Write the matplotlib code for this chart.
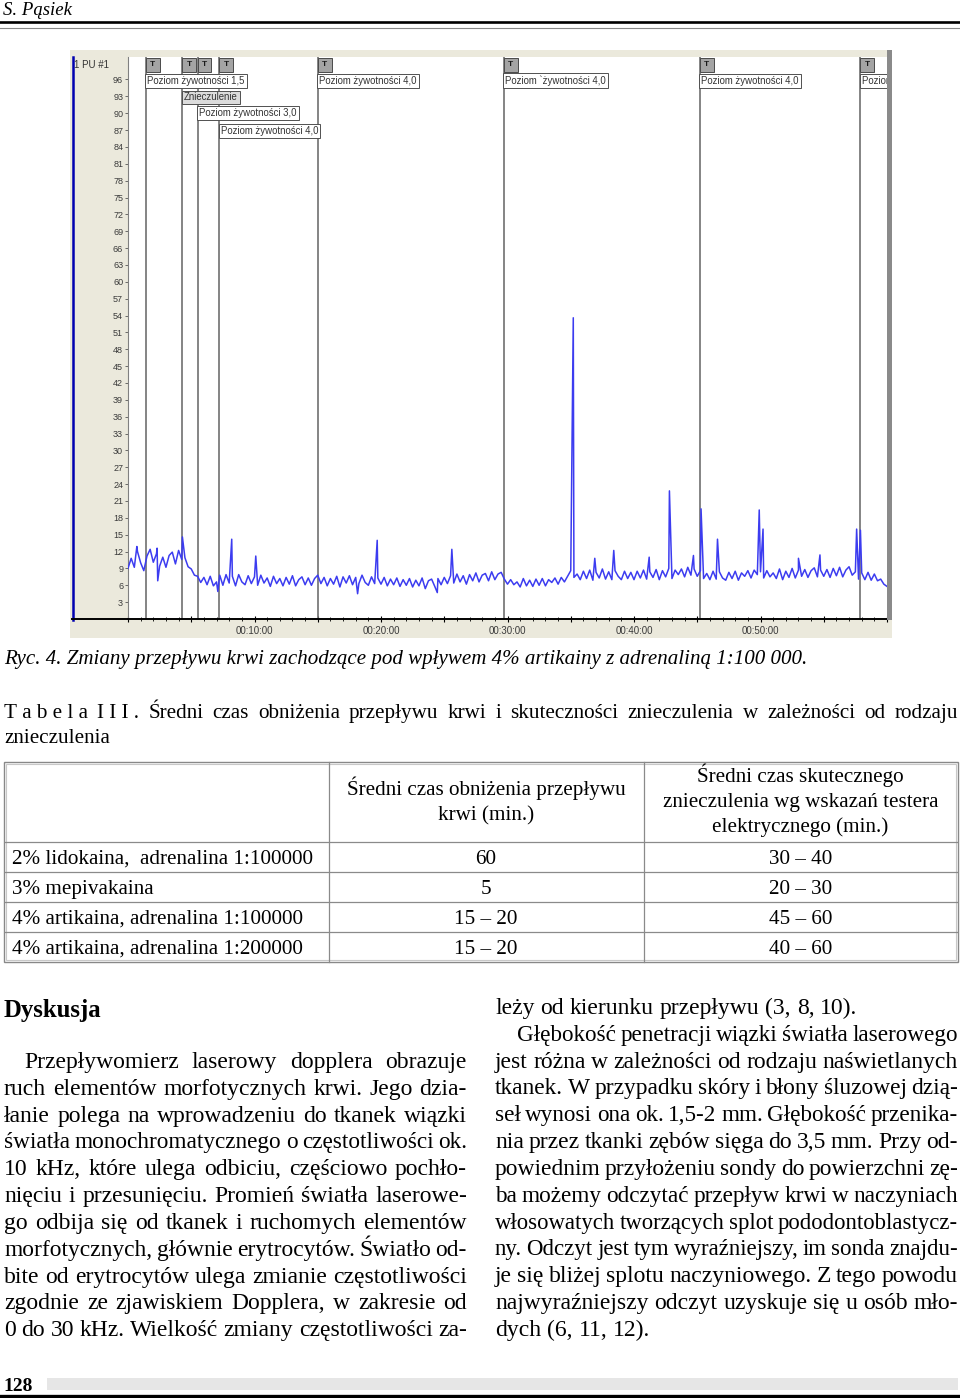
import numpy as np
import matplotlib
matplotlib.use("Agg")
import matplotlib.pyplot as plt
from matplotlib.patches import Rectangle
from matplotlib.lines import Line2D

W, H = 960, 1398

# przeplyw krwi (PU), probki co 0,25 min
flow_base = [
    9.0, 10.8, 9.2, 12.0, 10.0, 8.6, 11.2, 12.4, 10.1, 11.6, 9.4, 11.0, 9.2, 11.3, 11.9, 9.8, 12.2, 10.6, 10.9, 9.3,
    8.9, 7.8, 7.6, 6.5, 7.4, 6.1, 7.6, 5.9, 6.6, 7.8, 6.0, 7.9, 6.4, 7.6, 5.9, 7.9, 6.6, 6.1, 7.7, 6.3,
    7.5, 6.0, 7.8, 6.4, 7.3, 5.8, 7.6, 6.3, 7.2, 5.9, 7.4, 6.2, 7.7, 5.9, 7.0, 7.5, 6.1, 7.3, 6.0, 7.2,
    7.8, 6.3, 7.4, 5.9, 7.2, 6.2, 7.6, 5.7, 7.5, 6.4, 7.7, 6.1, 7.4, 6.3, 7.8, 6.5, 6.0, 7.5, 6.3, 7.3,
    6.2, 7.4, 5.9, 7.1, 6.1, 7.3, 5.8, 7.0, 6.0, 7.2, 5.7, 6.9, 5.9, 7.3, 5.4, 6.8, 7.1, 5.8, 7.2, 6.1,
    7.4, 6.3, 7.7, 6.4, 8.0, 6.6, 7.7, 6.2, 7.9, 6.8, 8.2, 6.6, 7.8, 8.1, 6.8, 8.4, 7.0, 8.0, 8.3, 7.1,
    6.2, 7.0, 6.1, 6.6, 5.7, 7.2, 5.9, 6.9, 5.8, 7.1, 6.0, 7.2, 5.9, 7.0, 6.5, 7.3, 6.2, 7.4, 6.6, 7.6,
    8.6, 7.4, 8.0, 7.0, 8.5, 7.2, 8.7, 6.9, 8.3, 7.3, 8.9, 7.1, 8.4, 7.0, 8.6, 7.6, 7.0, 8.5, 7.2, 8.3,
    7.0, 8.5, 7.3, 8.7, 7.1, 8.4, 7.4, 8.8, 7.0, 8.6, 7.5, 9.0, 7.2, 8.7, 7.9, 8.9, 7.5, 9.2, 7.8, 8.9,
    7.6, 8.6, 7.2, 8.1, 7.0, 8.5, 7.1, 8.4, 7.3, 6.9, 8.3, 7.2, 8.5, 6.9, 8.2, 7.6, 8.6, 7.3, 8.7, 7.9,
    8.4, 7.3, 8.6, 7.5, 8.2, 7.2, 8.9, 7.0, 8.5, 7.4, 9.0, 7.3, 8.7, 7.6, 8.8, 7.4, 8.6, 9.1, 7.5, 8.7,
    7.6, 8.8, 7.4, 9.0, 7.7, 9.2, 7.5, 8.7, 9.3, 7.8, 8.4, 7.1, 8.2, 7.0, 8.3, 6.9, 8.0, 6.8, 7.1, 6.2,
    5.8,
]
flow_t = list(np.arange(len(flow_base)) * 0.25)

# piki i spadki
spike_t = [0.7, 2.3, 2.35, 4.3, 7.1, 8.2, 10.1, 18.15, 19.7, 24.45, 25.6, 35.2, 36.9, 38.4, 41.2,
           42.8, 44.7, 45.3, 46.6, 49.9, 50.2, 53.0, 54.7, 57.6, 57.9]
spike_v = [12.9, 12.6, 6.8, 14.6, 4.9, 14.2, 11.2, 4.5, 14.0, 4.7, 12.4, 53.6, 10.8, 12.2, 11.0,
           22.8, 11.3, 19.6, 14.2, 19.4, 16.0, 10.8, 11.4, 16.0, 15.8]

marker_t = [1.4, 4.3, 5.5, 7.2, 15.0, 29.7, 45.2, 57.9]
marker_labels = ["Poziom żywotności 1,5", "Znieczulenie", "Poziom żywotności 3,0",
                 "Poziom żywotności 4,0", "Poziom żywotności 4,0", "Poziom `żywotności 4,0",
                 "Poziom żywotności 4,0", "Poziom żywotności 4,0"]
marker_rows = [0, 1, 2, 3, 0, 0, 0, 0]
row_levels = [95.8, 92.8, 90.0, 86.9]

y_ticks = list(range(3, 97, 3))
x_major = list(range(0, 61, 5))
x_labels = ["", "", "00:10:00", "", "00:20:00", "", "00:30:00", "", "00:40:00", "", "00:50:00", "", ""]

table_head2 = ["Średni czas obniżenia przepływu", "krwi (min.)"]
table_head3 = ["Średni czas skutecznego", "znieczulenia wg wskazań testera", "elektrycznego (min.)"]
table_names = ["2% lidokaina,  adrenalina 1:100000", "3% mepivakaina",
               "4% artikaina, adrenalina 1:100000", "4% artikaina, adrenalina 1:200000"]
table_drop = ["60", "5", "15 – 20", "15 – 20"]
table_anest = ["30 – 40", "20 – 30", "45 – 60", "40 – 60"]

left_lines = [
    "Przepływomierz laserowy dopplera obrazuje",
    "ruch elementów morfotycznych krwi. Jego dzia-",
    "łanie polega na wprowadzeniu do tkanek wiązki",
    "światła monochromatycznego o częstotliwości ok.",
    "10 kHz, które ulega odbiciu, częściowo pochło-",
    "nięciu i przesunięciu. Promień światła laserowe-",
    "go odbija się od tkanek i ruchomych elementów",
    "morfotycznych, głównie erytrocytów. Światło od-",
    "bite od erytrocytów ulega zmianie częstotliwości",
    "zgodnie ze zjawiskiem Dopplera, w zakresie od",
    "0 do 30 kHz. Wielkość zmiany częstotliwości za-",
]
right_lines = [
    "leży od kierunku przepływu (3, 8, 10).",
    "Głębokość penetracji wiązki światła laserowego",
    "jest różna w zależności od rodzaju naświetlanych",
    "tkanek. W przypadku skóry i błony śluzowej dzią-",
    "seł wynosi ona ok. 1,5-2 mm. Głębokość przenika-",
    "nia przez tkanki zębów sięga do 3,5 mm. Przy od-",
    "powiednim przyłożeniu sondy do powierzchni zę-",
    "ba możemy odczytać przepływ krwi w naczyniach",
    "włosowatych tworzących splot pododontoblastycz-",
    "ny. Odczyt jest tym wyraźniejszy, im sonda znajdu-",
    "je się bliżej splotu naczyniowego. Z tego powodu",
    "najwyraźniejszy odczyt uzyskuje się u osób mło-",
    "dych (6, 11, 12).",
]

plt.rcParams['font.family'] = ['Liberation Sans', 'DejaVu Sans']
SERIF = ['Liberation Serif', 'DejaVu Serif']
TS = 15.2   # tabela
BS = 17.0   # tekst glowny

fig = plt.figure(figsize=(W / 100, H / 100), dpi=100)
fig.patch.set_facecolor("white")
renderer = fig.canvas.get_renderer()


def fx(x):
    return x / W


def fy(y):
    return 1 - y / H


def hline(x0, x1, y, color="black", lw=1.0):
    fig.add_artist(Line2D([fx(x0), fx(x1)], [fy(y), fy(y)], color=color, lw=lw, zorder=3))


def vline(x, y0, y1, color="black", lw=1.0):
    fig.add_artist(Line2D([fx(x), fx(x)], [fy(y0), fy(y1)], color=color, lw=lw, zorder=3))


def rect(x0, y0, x1, y1, fc, ec="none", lw=0, z=-5):
    fig.add_artist(Rectangle((fx(x0), fy(y1)), (x1 - x0) / W, (y1 - y0) / H, fc=fc, ec=ec, lw=lw, zorder=z))


def put_line(text, x0, x1, yb, size, justify=True, **kw):
    words = text.split(" ")
    objs = [fig.text(0, 0, w, fontsize=size, family=SERIF, va="baseline", ha="left", **kw) for w in words]
    widths = [o.get_window_extent(renderer).width for o in objs]
    min_gap = 4.5
    need = sum(widths) + min_gap * (len(words) - 1)
    if need > x1 - x0:
        # linia za dluga - lekko zmniejsz czcionke
        k = (x1 - x0 - min_gap * (len(words) - 1)) / sum(widths)
        for o in objs:
            o.set_fontsize(size * k)
        widths = [o.get_window_extent(renderer).width for o in objs]
    gap = size * 100 / 72 * 0.25
    if justify and len(words) > 1:
        gap = max((x1 - x0 - sum(widths)) / (len(words) - 1), 1.5)
    x = x0
    for o, w in zip(objs, widths):
        o.set_position((fx(x), fy(yb)))
        x += w + gap


# naglowek strony
fig.text(fx(3), fy(15), "S. Pąsiek", fontsize=13.5, family=SERIF, style="italic", va="baseline")
hline(0, 960, 22, lw=1.9)
hline(0, 960, 27.5, color="#888888", lw=0.8)

# panel wykresu (zrzut ekranu)
rect(70, 50, 892, 638, "#ebe9dc")
rect(887, 50, 892, 620, "#8a8a8a", z=3)
vline(72.5, 57, 620, color="#0000b0", lw=1.8)

ax = fig.add_axes([fx(128), fy(619), (887 - 128) / W, (619 - 57) / H])
ax.set_facecolor("white")
ax.set_xlim(0, 60)
ax.set_ylim(0, 100)
for s in ["top", "right"]:
    ax.spines[s].set_visible(False)
ax.spines["left"].set_color("#808080")
ax.spines["bottom"].set_linewidth(1.4)

ax.set_yticks(y_ticks)
ax.set_yticklabels([str(v) for v in y_ticks])
ax.tick_params(axis="y", length=2.5, width=0.6, color="#555555", labelsize=6.5,
               labelcolor="#3a3a3a", pad=1)
ax.set_xticks(x_major)
ax.set_xticklabels(x_labels)
ax.set_xticks(np.arange(0, 61, 1), minor=True)
ax.tick_params(axis="x", which="major", direction="inout", length=5, width=0.8,
               labelsize=7, labelcolor="#3a3a3a", pad=2.5)
ax.tick_params(axis="x", which="minor", direction="inout", length=2.5, width=0.6)

hline(72, 128, 619.3, lw=1.4)
fig.text(fx(74), fy(65), "1 PU #1", fontsize=7, color="#333333", va="center")

for t, lab, r in zip(marker_t, marker_labels, marker_rows):
    ax.axvline(t, color="#707070", lw=1.2, zorder=2)
    ax.add_patch(Rectangle((t, 97.4), 1.1, 2.5, fc="#a4a4a4", ec="#4a4a4a", lw=0.7, zorder=4))
    ax.text(t + 0.55, 98.6, "T", fontsize=6, fontweight="bold", color="#1a1a1a",
            ha="center", va="center", zorder=5)
    bg = "#dcdcdc" if lab == "Znieczulenie" else "white"
    txt = ax.text(t + 0.12, row_levels[r], lab, fontsize=6.9, color="#333333", ha="left", va="center",
                  zorder=5, bbox=dict(boxstyle="square,pad=0.2", fc=bg, ec="#505050", lw=0.7))
    txt.set_clip_on(True)
    txt.set_clip_box(ax.bbox)

pts = sorted(zip(flow_t + spike_t, flow_base + spike_v))
ax.plot([p[0] for p in pts], [p[1] for p in pts], color="#3c3cf0", lw=1.1, zorder=3)

# podpis ryciny
fig.text(fx(4), fy(664), "Ryc. 4. Zmiany przepływu krwi zachodzące pod wpływem 4% artikainy z adrenaliną 1:100 000.",
         fontsize=15.1, family=SERIF, style="italic", va="baseline")

put_line("T\u00a0a\u00a0b\u00a0e\u00a0l\u00a0a I\u00a0I\u00a0I\u00a0. Średni czas obniżenia przepływu krwi i skuteczności "
         "znieczulenia w zależności od rodzaju", 4, 958, 718, TS)
put_line("znieczulenia", 4, 958, 743, TS, justify=False)

# tabela
rect(4, 762, 958, 962, "none", ec="#888888", lw=1.0, z=2)
rect(6, 764, 956, 960, "none", ec="#c8c8c8", lw=0.8, z=2)
for y in [842, 872, 902, 932]:
    hline(5, 957, y, color="#8a8a8a", lw=0.9)
vline(328.5, 762, 962, color="#8a8a8a", lw=0.9)
vline(643.5, 762, 962, color="#8a8a8a", lw=0.9)

for i, s in enumerate(table_head2):
    fig.text(fx(486), fy(795 + i * 25.5), s, fontsize=TS, family=SERIF, ha="center", va="baseline")
for i, s in enumerate(table_head3):
    fig.text(fx(800.5), fy(782 + i * 25), s, fontsize=TS, family=SERIF, ha="center", va="baseline")
for i in range(len(table_names)):
    yb = 864 + i * 30
    fig.text(fx(12), fy(yb), table_names[i], fontsize=TS, family=SERIF, va="baseline")
    fig.text(fx(486), fy(yb), table_drop[i], fontsize=TS, family=SERIF, ha="center", va="baseline")
    fig.text(fx(800.5), fy(yb), table_anest[i], fontsize=TS, family=SERIF, ha="center", va="baseline")

# tekst
fig.text(fx(4), fy(1017), "Dyskusja", fontsize=17.8, family=SERIF, fontweight="bold", va="baseline")
step = 26.83
for i, s in enumerate(left_lines):
    put_line(s, 24 if i == 0 else 4, 467, 1068 + i * step, BS)
for i, s in enumerate(right_lines):
    last = i in (0, len(right_lines) - 1)
    put_line(s, 517 if i == 1 else 495, 958, 1014 + i * step, BS, justify=not last)

# stopka
rect(47, 1378, 958, 1390, "#e6e6e6")
fig.text(fx(3), fy(1391), "128", fontsize=14, family=SERIF, fontweight="bold", va="baseline")
hline(0, 960, 1395.5, lw=2.4)

fig.savefig("out.png", dpi=100)
